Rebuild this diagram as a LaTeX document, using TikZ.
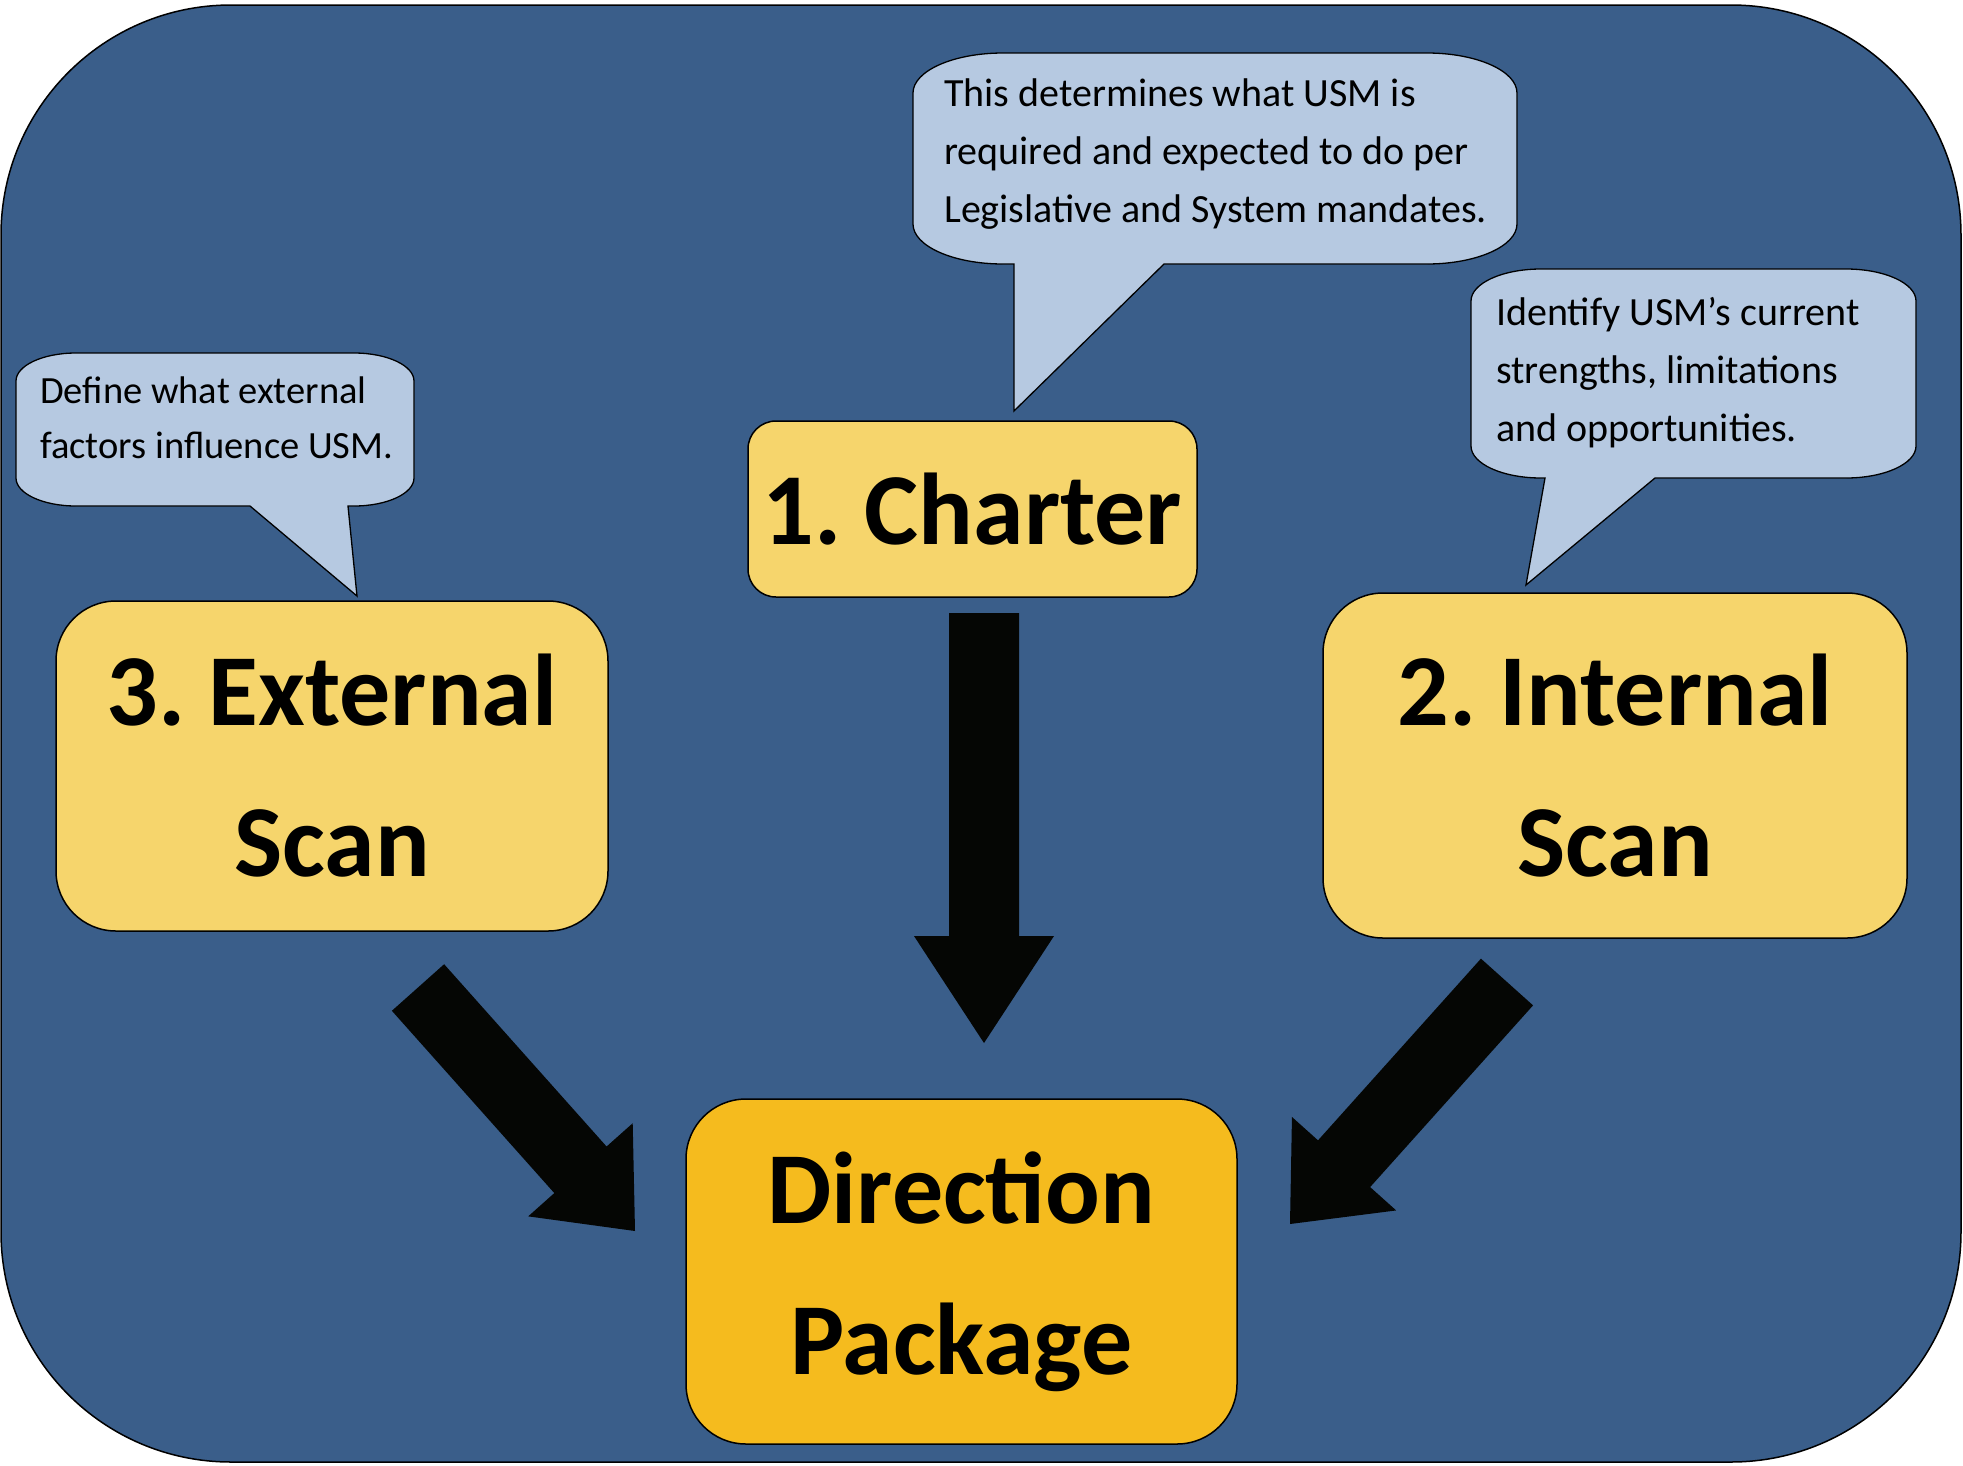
\documentclass[tikz,border=0pt]{standalone}
\usepackage{fontspec}
\setmainfont{Carlito}
\usetikzlibrary{calc}

\definecolor{panelblue}{RGB}{58,94,138}
\definecolor{stepyellow}{RGB}{246,213,108}
\definecolor{goalgold}{RGB}{245,187,30}
\definecolor{notegray}{RGB}{182,201,225}
\definecolor{arrowblack}{RGB}{5,6,4}

\tikzset{
    stepbox/.style={draw=black, line width=1.5pt, fill=stepyellow, rounded corners=60pt,
        align=center, inner sep=0pt, font=\bfseries\fontsize{102}{151}\selectfont},
    bubble/.style={draw=black, line width=1.3pt, fill=notegray},
    notetext/.style={anchor=base west, align=left, inner sep=0pt,
        font=\fontsize{40}{58}\selectfont},
}

% #1 foot, #2 tip, #3 head length
\newcommand{\blockarrow}[3]{
    \coordinate (aj) at ($(#2)!#3!(#1)$);
    \fill[arrowblack] ($(#1)!35pt!90:(#2)$) -- ($(aj)!35pt!90:(#2)$) -- ($(aj)!70pt!90:(#2)$)
        -- (#2) -- ($(aj)!70pt!-90:(#2)$) -- ($(aj)!35pt!-90:(#2)$) -- ($(#1)!35pt!-90:(#2)$) -- cycle;
}

\begin{document}
\frenchspacing
\begin{tikzpicture}[x=1pt, y=-1pt]
    \useasboundingbox (0,0) rectangle (1963,1465);
    \draw[line width=1.5pt, fill=panelblue, rounded corners=230pt] (1,5) rectangle (1961,1462);

    \coordinate (charterfoot)  at (984,613);
    \coordinate (chartertip)   at (984,1043);
    \coordinate (externalfoot) at (418,987.5);
    \coordinate (externaltip)  at (635,1231);
    \coordinate (internalfoot) at (1507,982);
    \coordinate (internaltip)  at (1290,1224);
    \blockarrow{charterfoot}{chartertip}{107pt}
    \blockarrow{externalfoot}{externaltip}{82pt}
    \blockarrow{internalfoot}{internaltip}{81pt}

    \draw[bubble] (1014,264) -- (1014,411) -- (1164,264) -- (1427,264)
        arc[start angle=270, end angle=360, x radius=90pt, y radius=40pt] -- (1517,93)
        arc[start angle=0, end angle=90, x radius=90pt, y radius=40pt] -- (1003,53)
        arc[start angle=90, end angle=180, x radius=90pt, y radius=40pt] -- (913,224)
        arc[start angle=180, end angle=270, x radius=90pt, y radius=40pt] -- cycle;
    \draw[bubble] (250,506) -- (357,596) -- (348,506) -- (354,506)
        arc[start angle=270, end angle=360, x radius=60pt, y radius=28pt] -- (414,381)
        arc[start angle=0, end angle=90, x radius=60pt, y radius=28pt] -- (76,353)
        arc[start angle=90, end angle=180, x radius=60pt, y radius=28pt] -- (16,478)
        arc[start angle=180, end angle=270, x radius=60pt, y radius=28pt] -- cycle;
    \draw[bubble] (1545,478) -- (1526,585) -- (1655,478) -- (1846,478)
        arc[start angle=270, end angle=360, x radius=70pt, y radius=32pt] -- (1916,301)
        arc[start angle=0, end angle=90, x radius=70pt, y radius=32pt] -- (1541,269)
        arc[start angle=90, end angle=180, x radius=70pt, y radius=32pt] -- (1471,446)
        arc[start angle=180, end angle=270, x radius=70pt, y radius=32pt] -- cycle;

    \node[notetext] (charternote) at (944,222) {This determines what USM is\\required and expected to do per\\Legislative and System mandates.};
    \node[notetext, font=\fontsize{38.5}{55}\selectfont] (externalnote) at (40,458) {Define what external\\factors influence USM.};
    \node[notetext] (internalnote) at (1496,441) {Identify USM’s current\\strengths, limitations\\and opportunities.};

    \node[stepbox, rounded corners=28pt, minimum width=449pt, minimum height=176pt] (charter) at (972.5,509) {1. Charter};
    \node[stepbox, minimum width=552pt, minimum height=330pt] (external) at (332,766) {3. External\\Scan};
    \node[stepbox, minimum width=584pt, minimum height=345pt] (internal) at (1615,765.5) {2. Internal\\Scan};
    \node[stepbox, fill=goalgold, minimum width=551pt, minimum height=345pt] (direction) at (961.5,1271.5) {Direction\\Package};
\end{tikzpicture}
\end{document}
